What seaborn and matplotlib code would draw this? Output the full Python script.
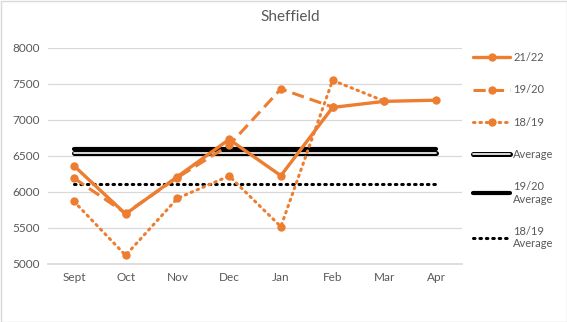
import matplotlib
matplotlib.use("Agg")
import matplotlib.pyplot as plt
import matplotlib.patheffects as pe
import seaborn as sns
import pandas as pd
import numpy as np

months = ["Sept", "Oct", "Nov", "Dec", "Jan", "Feb", "Mar", "Apr"]
s2122 = [6365, 5695, 6213, 6731, 6227, 7175, 7259, 7275]
s1920 = [6194, 5705, 6200, 6650, 7431, 7180, np.nan, np.nan]
s1819 = [5870, 5120, 5912, 6222, 5519, 7551, 7262, np.nan]
avg_all = 6548
avg_1920 = 6597
avg_1819 = 6116

sns.set_theme(style="white")
plt.rcParams['font.family'] = ['Lato', 'DejaVu Sans']
txt = "#595959"
orange = "#ED7D31"

fig = plt.figure(figsize=(5.67, 3.22), dpi=100)
ax = fig.add_axes([48/567, 1-264/322, (462-48)/567, 216/322])

x = np.arange(len(months))
df = pd.DataFrame({"x": x, "s2122": s2122, "s1920": s1920, "s1819": s1819,
                   "a": [avg_all]*len(months), "a1920": [avg_1920]*len(months),
                   "a1819": [avg_1819]*len(months)})

sns.lineplot(data=df, x="x", y="a1920", ax=ax, color="black", lw=3, label="19/20\nAverage", zorder=2)
sns.lineplot(data=df, x="x", y="a", ax=ax, color="white", lw=1.2, label="Average", zorder=2,
             path_effects=[pe.Stroke(linewidth=3.6, foreground="black"), pe.Normal()])
sns.lineplot(data=df, x="x", y="a1819", ax=ax, color="black", lw=2.2, linestyle=(0, (0.5, 1.6)),
             dash_capstyle="round", label="18/19\nAverage", zorder=2)
sns.lineplot(data=df, x="x", y="s1819", ax=ax, color=orange, lw=2.2, linestyle=(0, (0.5, 1.6)),
             dash_capstyle="round", marker="o", markersize=6, markeredgewidth=0, label="18/19", zorder=3)
sns.lineplot(data=df, x="x", y="s1920", ax=ax, color=orange, lw=2.2, linestyle=(0, (4, 2)),
             marker="o", markersize=6, markeredgewidth=0, label="19/20", zorder=3)
sns.lineplot(data=df, x="x", y="s2122", ax=ax, color=orange, lw=2.4,
             marker="o", markersize=6, markeredgewidth=0, label="21/22", zorder=4)

ax.set_xlim(-0.5, len(months)-0.5)
ax.set_ylim(5000, 8000)
ax.set_yticks(np.arange(5000, 8001, 500))
ax.set_xticks(x)
ax.set_xticklabels(months)
ax.set_xlabel("")
ax.set_ylabel("")
ax.grid(axis="y", color="#d9d9d9", lw=0.9)
ax.set_axisbelow(True)
for s in ["top", "right", "left"]:
    ax.spines[s].set_visible(False)
ax.spines["bottom"].set_color("#d9d9d9")
ax.tick_params(axis="both", colors=txt, labelsize=8.5, length=0, pad=6)

ax.get_legend().remove()
handles, labels = ax.get_legend_handles_labels()
order = ["21/22", "19/20", "18/19", "Average", "19/20\nAverage", "18/19\nAverage"]
hmap = dict(zip(labels, handles))
leg = fig.legend([hmap[k] for k in order], order, loc="upper left",
                 bbox_to_anchor=(470/567, 1-49/322), frameon=False, fontsize=8,
                 handlelength=3.3, handletextpad=0.3, labelspacing=1.9, labelcolor=txt,
                 borderaxespad=0, borderpad=0.3)

fig.text(290/567, 1-17/322, "Sheffield", ha="center", va="center", fontsize=11, color=txt)
fig.patches.append(plt.Rectangle((0.5/567, 0.5/322), 1-1/567, 1-1/322, transform=fig.transFigure,
                                 fill=False, edgecolor="#d9d9d9", lw=1))
fig.savefig("out.png", dpi=100)
